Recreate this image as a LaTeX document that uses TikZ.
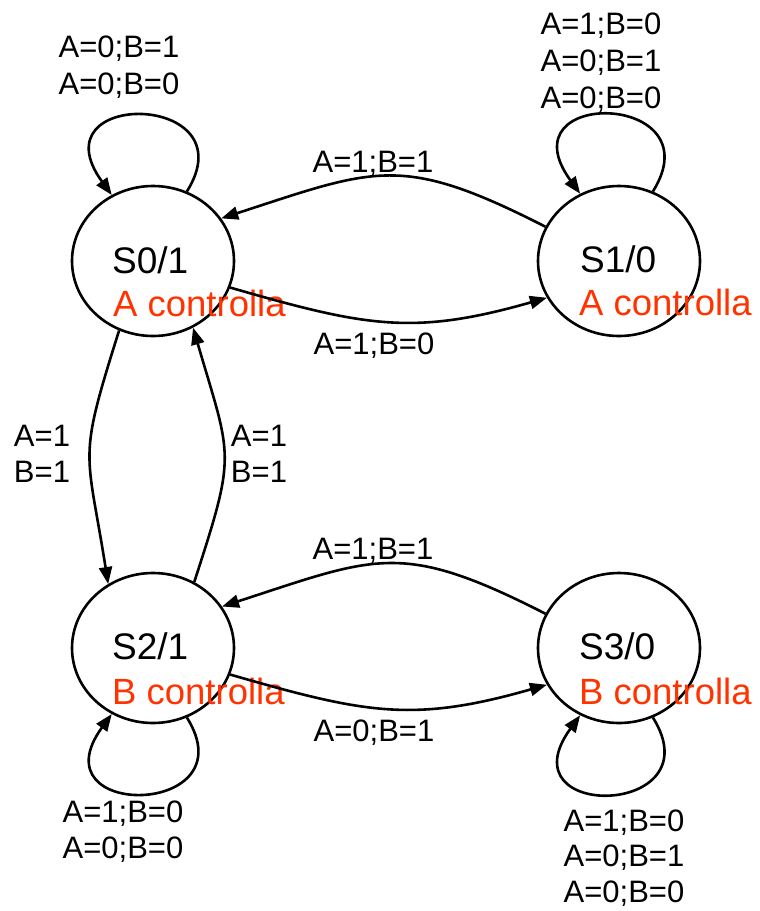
\documentclass[tikz,border=0pt]{standalone}
\usepackage{fontspec}
\setmainfont{Liberation Sans}
\usetikzlibrary{shapes.geometric,arrows.meta}
\definecolor{ctrlred}{RGB}{255,51,0}
\newcommand\stk[2][37pt]{\vtop{\baselineskip=#1\halign{\hfil##\hfil\cr#2\crcr}}}
\begin{document}
\begin{tikzpicture}[x=1pt,y=1pt,
  state/.style={ellipse,draw,line width=2.6pt,minimum width=162pt,minimum height=150pt,inner sep=0pt},
  stname/.style={anchor=base west,inner sep=0pt,font=\fontsize{37}{44}\selectfont},
  ctrl/.style={anchor=base west,inner sep=0pt,text=ctrlred,font=\fontsize{36.5}{44}\selectfont},
  lbl/.style={anchor=base,inner sep=0pt,font=\fontsize{31}{37}\selectfont},
  trans/.style={line width=2.6pt,-{Triangle[length=17pt,width=13pt]}},
  loopup/.style={out=58,in=126,out distance=118pt,in distance=132pt},
  loopdown/.style={out=-58,in=-126,out distance=118pt,in distance=132pt},
  arcup/.style={out=153,in=18,out distance=162pt,in distance=163pt},
  arcdown/.style={out=-16,in=196,out distance=140pt,in distance=140pt}
]
\useasboundingbox (0,0) rectangle (760,-911);
\node[state] (s0) at (153,-261) {};
\node[state] (s1) at (619,-261) {};
\node[state] (s2) at (153,-648) {};
\node[state] (s3) at (619,-648) {};

\node[stname] (s0n) at (112,-273) {S0/1};
\node[ctrl] (s0c) at (113,-316) {A controlla};
\node[stname] (s1n) at (580,-272) {S1/0};
\node[ctrl] (s1c) at (579,-315) {A controlla};
\node[stname] (s2n) at (112,-659) {S2/1};
\node[ctrl] (s2c) at (112,-704) {B controlla};
\node[stname] (s3n) at (579,-659) {S3/0};
\node[ctrl] (s3c) at (579,-704) {B controlla};

% loops
\draw[trans] (s0.64) to[loopup] (s0.122);
\draw[trans] (s1.64) to[loopup] (s1.120);
\draw[trans] (s2.-64) to[loopdown] (s2.-122);
\draw[trans] (s3.-64) to[loopdown] (s3.-120);

% horizontal arcs
\draw[trans] (s1.155) to[arcup] (s0.32.5);
\draw[trans] (s0.-19) to[arcdown] (s1.207.5);
\draw[trans] (s3.155) to[arcup] (s2.31);
\draw[trans] (s2.-19) to[arcdown] (s3.207.5);

% vertical arcs
\draw[trans] (s0.244) to[out=252.5,in=99,out distance=139pt,in distance=139pt] (s2.125.5);
\draw[trans] (s2.58.4) to[out=72,in=-73.7,out distance=138pt,in distance=138pt] (s0.-59.8);

% labels
\node[lbl] (l0) at (119,-57) {\stk{A=0;B=1\cr A=0;B=0}};
\node[lbl] (l1) at (601,-34) {\stk{A=1;B=0\cr A=0;B=1\cr A=0;B=0}};
\node[lbl] (ltop) at (373,-172) {A=1;B=1};
\node[lbl] (lmid) at (374,-354) {A=1;B=0};
\node[lbl] (lleft) at (42,-446) {\stk[36pt]{A=1\cr B=1}};
\node[lbl] (lright) at (259,-446) {\stk[36pt]{A=1\cr B=1}};
\node[lbl] (lbot1) at (373,-559) {A=1;B=1};
\node[lbl] (lbot2) at (374,-741) {A=0;B=1};
\node[lbl] (l2) at (123,-822) {\stk[36pt]{A=1;B=0\cr A=0;B=0}};
\node[lbl] (l3) at (624,-831) {\stk[35.5pt]{A=1;B=0\cr A=0;B=1\cr A=0;B=0}};
\end{tikzpicture}
\end{document}
